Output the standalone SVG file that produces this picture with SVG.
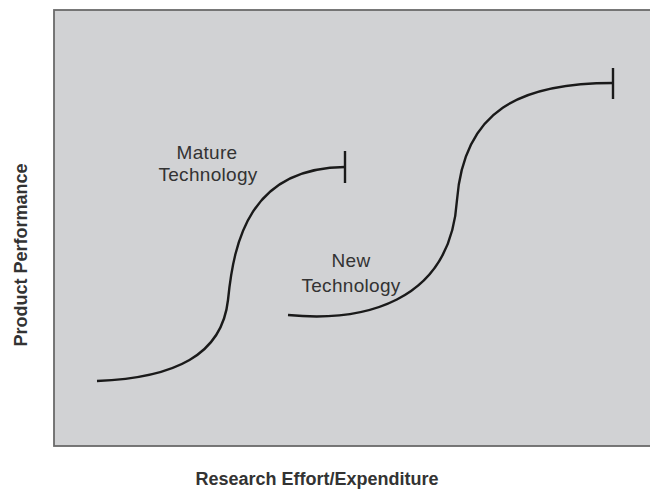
<svg xmlns="http://www.w3.org/2000/svg" width="650" height="490" viewBox="0 0 650 490">
<style>
.lbl{font-family:"Liberation Sans",Arial,sans-serif;font-size:19px;fill:#333;text-anchor:middle;letter-spacing:0.3px}
.ax{font-family:"Liberation Sans",Arial,sans-serif;font-size:18px;font-weight:bold;fill:#333;text-anchor:middle}
.crv{fill:none;stroke:#1a1a1a;stroke-width:2.4;stroke-linecap:butt}
</style>
<rect x="0" y="0" width="650" height="490" fill="#ffffff"/>
<g id="plot">
<rect x="54" y="10" width="600" height="436" fill="#d1d2d4" stroke="#6a6a6a" stroke-width="1.8"/>
</g>
<g id="connectors">
<path class="crv" d="M97,381 C175,378 222,355 228,300 C234,240 250,168 345,167"/>
<line class="crv" x1="345" y1="151" x2="345" y2="183"/>
<path class="crv" d="M288,315 C360,322 450,305 457,200 C464,110 520,83 613,83"/>
<line class="crv" x1="613" y1="68" x2="613" y2="99"/>
</g>
<g id="mature-label">
<text class="lbl" x="207" y="159">Mature</text>
<text class="lbl" x="208" y="181">Technology</text>
</g>
<g id="new-label">
<text class="lbl" x="351" y="267">New</text>
<text class="lbl" x="351" y="292">Technology</text>
</g>
<g id="x-axis-label">
<text class="ax" x="317" y="485">Research Effort/Expenditure</text>
</g>
<g id="y-axis-label">
<text class="ax" transform="translate(27,255) rotate(-90)" x="0" y="0">Product Performance</text>
</g>
</svg>
